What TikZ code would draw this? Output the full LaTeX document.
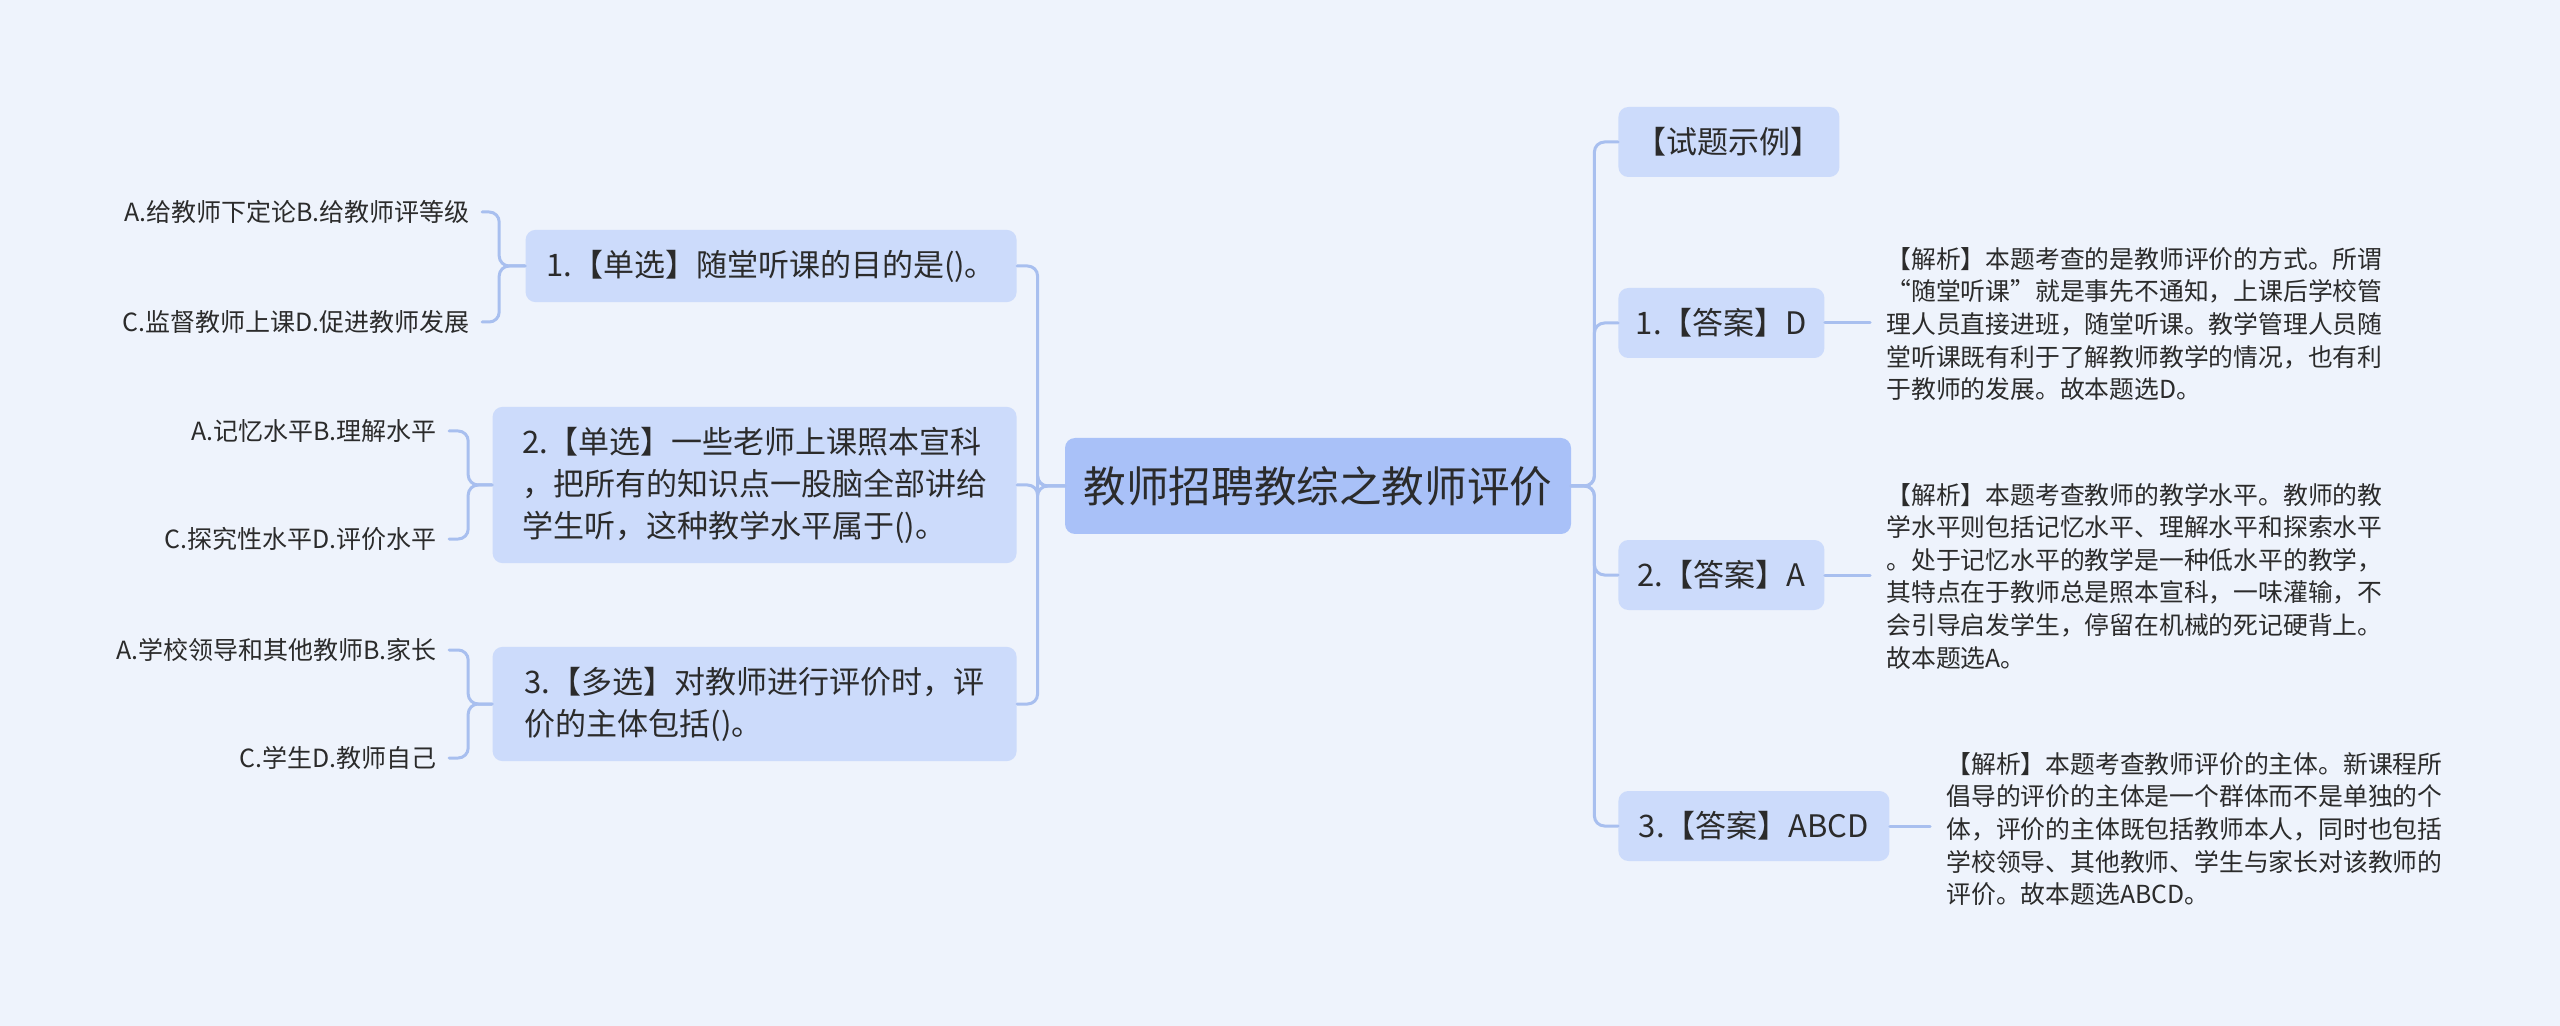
\documentclass[tikz,border=0pt]{standalone}
\usepackage{fontspec}
\setmainfont{Noto Sans CJK SC}
\usepackage{tikz}
\definecolor{bgblue}{HTML}{EEF3FC}
\definecolor{rootblue}{HTML}{A9C1F8}
\definecolor{subblue}{HTML}{CCDBFB}
\definecolor{lineblue}{HTML}{A8BFEF}
\definecolor{txt}{HTML}{2B2B2B}
\tikzset{
  root/.style={fill=rootblue,rounded corners=5pt,text=txt,font=\fontsize{21.3}{26}\selectfont,
    minimum width=253pt,minimum height=48pt,inner sep=0pt},
  topic/.style={fill=subblue,rounded corners=5pt,text=txt,font=\fontsize{15.5}{21}\selectfont,
    align=left,inner xsep=8pt,inner ysep=10pt,minimum height=35pt},
  leaf/.style={text=txt,font=\fontsize{12.5}{15}\selectfont,inner xsep=6pt,anchor=east},
  note/.style={text=txt,font=\fontsize{12.4}{16.3}\selectfont,align=left,inner xsep=8pt,anchor=west},
  link/.style={draw=lineblue,line width=1.5pt,rounded corners=5pt}
}
\begin{document}
\begin{tikzpicture}[x=0.5pt,y=-0.5pt,line cap=round,line join=round]
        \fill[bgblue] (0,0) rectangle (2560,1026);
        \useasboundingbox (0,0) rectangle (2560,1026);
        % centre
        \node[root] (root) at (1318,486) {教师招聘教综之教师评价};
        % left side
        \node[topic,anchor=east,minimum width=245.5pt] (q1) at (1017,266) {1.【单选】随堂听课的目的是()。};
        \node[topic,anchor=east,minimum width=262pt] (q2) at (1017,485) {2.【单选】一些老师上课照本宣科\\，把所有的知识点一股脑全部讲给\\学生听，这种教学水平属于()。};
        \node[topic,anchor=east,minimum width=262pt] (q3) at (1017,704) {3.【多选】对教师进行评价时，评\\价的主体包括()。};
        \node[leaf] (q1a) at (482,212) {A.给教师下定论B.给教师评等级};
        \node[leaf] (q1b) at (482,322) {C.监督教师上课D.促进教师发展};
        \node[leaf] (q2a) at (449,431) {A.记忆水平B.理解水平};
        \node[leaf] (q2b) at (449,539) {C.探究性水平D.评价水平};
        \node[leaf] (q3a) at (449,650) {A.学校领导和其他教师B.家长};
        \node[leaf] (q3b) at (449,758) {C.学生D.教师自己};
        % right side
        \node[topic,anchor=west,minimum width=110.5pt] (ex) at (1618,142) {【试题示例】};
        \node[topic,anchor=west,minimum width=103pt] (a1) at (1618,323) {1.【答案】D};
        \node[topic,anchor=west,minimum width=103pt] (a2) at (1618,575) {2.【答案】A};
        \node[topic,anchor=west,minimum width=135.5pt] (a3) at (1618,826) {3.【答案】ABCD};
        \node[note] (n1) at (1870,324) {【解析】本题考查的是教师评价的方式。所谓\\“随堂听课”就是事先不通知，上课后学校管\\理人员直接进班，随堂听课。教学管理人员随\\堂听课既有利于了解教师教学的情况，也有利\\于教师的发展。故本题选D。};
        \node[note] (n2) at (1870,576) {【解析】本题考查教师的教学水平。教师的教\\学水平则包括记忆水平、理解水平和探索水平\\。处于记忆水平的教学是一种低水平的教学，\\其特点在于教师总是照本宣科，一味灌输，不\\会引导启发学生，停留在机械的死记硬背上。\\故本题选A。};
        \node[note] (n3) at (1930,829) {【解析】本题考查教师评价的主体。新课程所\\倡导的评价的主体是一个群体而不是单独的个\\体，评价的主体既包括教师本人，同时也包括\\学校领导、其他教师、学生与家长对该教师的\\评价。故本题选ABCD。};
        % connectors
        \foreach \q in {q1,q2,q3}
        \draw[link] (root.west) -- ++(-27,0) |- (\q.east);
        \foreach \q in {q1a,q1b}
        \draw[link] (q1.west) -- ++(-26,0) |- (\q.east);
        \foreach \q in {q2a,q2b}
        \draw[link] (q2.west) -- ++(-24,0) |- (\q.east);
        \foreach \q in {q3a,q3b}
        \draw[link] (q3.west) -- ++(-24,0) |- (\q.east);
        \foreach \a in {ex,a1,a2,a3}
        \draw[link] (root.east) -- ++(23,0) |- (\a.west);
        \draw[link] (a1.east) -- (a1.east -| n1.west);
        \draw[link] (a2.east) -- (a2.east -| n2.west);
        \draw[link] (a3.east) -- (a3.east -| n3.west);
      \end{tikzpicture}
\end{document}
